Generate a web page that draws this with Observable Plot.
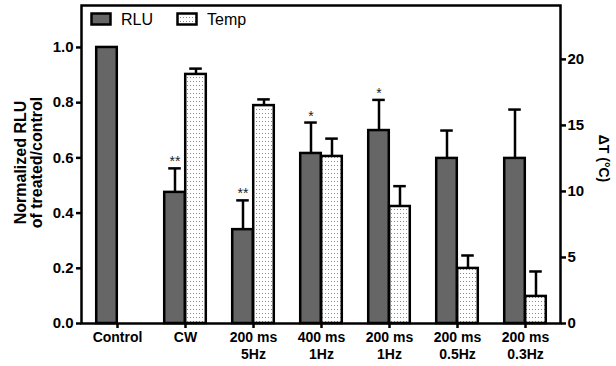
<!DOCTYPE html>
<html>
<head>
<meta charset="utf-8">
<script src="https://cdn.jsdelivr.net/npm/d3@7"></script>
<script src="https://cdn.jsdelivr.net/npm/@observablehq/plot@0.6"></script>
<style>
  html, body { margin: 0; padding: 0; background: white; }
  #wrap { position: relative; width: 616px; height: 366px; font-family: "Liberation Sans", Arial, sans-serif; }
  .leg { position: absolute; font-size: 16px; color: black; line-height: 1; }
</style>
</head>
<body>
<div id="wrap"></div>
<script>
// ---- data ----
const categories = ["Control", "CW", "200 ms\n5Hz", "400 ms\n1Hz", "200 ms\n1Hz", "200 ms\n0.5Hz", "200 ms\n0.3Hz"];
const rluMean = [1.0, 0.475, 0.34, 0.616, 0.699, 0.598, 0.598];
const rluSem  = [0, 0.087, 0.106, 0.112, 0.111, 0.101, 0.177];
const tempMean = [null, 18.86, 16.5, 12.65, 8.86, 4.17, 2.05];
const tempSem  = [null, 0.44, 0.47, 1.35, 1.54, 0.98, 1.89];
const stars = ["", "**", "**", "*", "*", "", ""];
const leftTicks = [0, 0.2, 0.4, 0.6, 0.8, 1.0];
const rightTicks = [0, 5, 10, 15, 20];
const series = ["RLU", "Temp"];

// ---- layout ----
const W = 616, H = 366;
const mL = 81, mR = 56, mT = 5, mB = 43;
const yMax = 1.152;          // left axis top
const tMax = 24.08;          // right axis top (°C)
const k = yMax / tMax;       // °C -> left units
const bw = (W - mL - mR) / categories.length;
const barW = 21, off = barW / 2, cap = 6.5;

const rows = categories.map((c, i) => ({cat: c, rlu: rluMean[i], rluHi: rluMean[i] + rluSem[i], star: stars[i],
  temp: tempMean[i] == null ? null : tempMean[i] * k,
  tempHi: tempMean[i] == null ? null : (tempMean[i] + tempSem[i]) * k}));
const rluErrRows = rows.filter((d, i) => rluSem[i] > 0);
const tempRows = rows.filter(d => d.temp != null);

const sw = 2.5;
const chart = Plot.plot({
  width: W, height: H,
  marginLeft: mL, marginRight: mR, marginTop: mT, marginBottom: mB,
  style: {fontFamily: "Liberation Sans, Arial, sans-serif", fontSize: "15px", color: "black", background: "white"},
  x: {domain: categories, padding: 0, label: null, axis: null},
  y: {domain: [0, yMax], label: null, axis: null},
  marks: [
    // error stems (drawn first, bars cover lower part)
    Plot.ruleX(rluErrRows, {x: "cat", y1: "rlu", y2: "rluHi", dx: -off, stroke: "black", strokeWidth: sw}),
    Plot.ruleX(tempRows, {x: "cat", y1: "temp", y2: "tempHi", dx: off, stroke: "black", strokeWidth: sw}),
    Plot.tickY(rluErrRows, {x: "cat", y: "rluHi", insetLeft: bw / 2 - off - cap, insetRight: bw / 2 + off - cap, stroke: "black", strokeWidth: sw}),
    Plot.tickY(tempRows, {x: "cat", y: "tempHi", insetLeft: bw / 2 + off - cap, insetRight: bw / 2 - off - cap, stroke: "black", strokeWidth: sw}),
    // bars
    Plot.barY(rows, {x: "cat", y: "rlu", fill: "#666666", stroke: "black", strokeWidth: sw,
      insetLeft: bw / 2 - barW, insetRight: bw / 2}),
    Plot.barY(tempRows, {x: "cat", y: "temp", fill: "url(#dots)", stroke: "black", strokeWidth: sw,
      insetLeft: bw / 2, insetRight: bw / 2 - barW}),
    // significance stars
    Plot.text(rows, {x: "cat", y: "rluHi", text: "star", dx: -off, dy: -2, lineAnchor: "bottom", fontSize: 14, fill: "#222"}),
    // axes
    Plot.axisX({tickSize: 5, tickPadding: 2, fontSize: 14, fontWeight: "bold", strokeWidth: sw, lineHeight: 1.2, label: null}),
    Plot.axisY(leftTicks, {anchor: "left", tickSize: 5, tickPadding: 3, fontSize: 15, fontWeight: "bold", strokeWidth: sw,
      tickFormat: d => d.toFixed(1), label: null}),
    Plot.axisY(rightTicks, {anchor: "right", y: d => d * k, tickSize: 5, tickPadding: 2, fontSize: 15, fontWeight: "bold", strokeWidth: sw,
      tickFormat: d => String(d), label: null}),
    Plot.text(["Normalized RLU\nof treated/control"], {frameAnchor: "left", textAnchor: "middle", rotate: -90, dx: -53, dy: -2,
      fontSize: 16, fontWeight: "bold", lineHeight: 1.0}),
    Plot.text(["ΔT (°C)"], {frameAnchor: "right", textAnchor: "middle", rotate: 90, dx: 43, dy: -6, fontSize: 14, fontWeight: "bold"}),
    Plot.frame({stroke: "black", strokeWidth: sw})
  ]
});

// dotted pattern for the Temp bars
const svgNS = "http://www.w3.org/2000/svg";
const defs = document.createElementNS(svgNS, "defs");
defs.innerHTML = `<pattern id="dots" width="3" height="4" patternUnits="userSpaceOnUse">
  <rect width="3" height="4" fill="white"/><rect x="1" y="1" width="1" height="1" fill="#8a8a8a"/></pattern>`;
chart.insertBefore(defs, chart.firstChild);

const wrap = document.getElementById("wrap");
wrap.appendChild(chart);

// legend (inside the plot area, top-left)
const legend = [
  {name: series[0], left: 90, fill: "#666666"},
  {name: series[1], left: 176, fill: "url(#dotsL)"}
];
legend.forEach(l => {
  const s = document.createElement("div");
  s.className = "leg";
  s.style.left = l.left + "px";
  s.style.top = "12px";
  s.innerHTML = `<svg width="24" height="16" style="vertical-align:top">
    <defs><pattern id="dotsL" width="3" height="4" patternUnits="userSpaceOnUse"><rect width="3" height="4" fill="white"/><rect x="1" y="1" width="1" height="1" fill="#8a8a8a"/></pattern></defs>
    <rect x="1.5" y="1.5" width="19" height="11" fill="${l.fill}" stroke="black" stroke-width="2.5"/></svg>`;
  wrap.appendChild(s);
  const t = document.createElement("div");
  t.className = "leg";
  t.style.left = (l.left + 31) + "px";
  t.style.top = "12px";
  t.textContent = l.name;
  wrap.appendChild(t);
});
</script>
</body>
</html>
